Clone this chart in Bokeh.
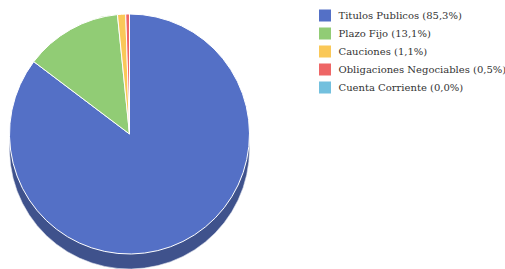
import numpy as np
from bokeh.plotting import figure
from bokeh.models import Range1d, ColumnDataSource
from bokeh.core.properties import value
from bokeh.embed import file_html
from bokeh.resources import INLINE

categories = ["Titulos Publicos", "Plazo Fijo", "Cauciones", "Obligaciones Negociables", "Cuenta Corriente"]
shares = [85.3, 13.1, 1.1, 0.5, 0.0]
colors = ["#5470c6", "#91cc75", "#fac858", "#ee6666", "#73c0de"]
side_colors = ["#3f528c", "#6b9656", "#b89340", "#ae4b4b", "#558da3"]

W, H = 505, 269
p = figure(width=W, height=H, output_backend="svg", toolbar_location=None,
           x_range=Range1d(0, W), y_range=Range1d(0, H), min_border=0)
p.axis.visible = False
p.grid.visible = False
p.outline_line_color = None
p.background_fill_color = "white"

cx, cy, r, depth = 129, H - 133.5, 120, 15
vals = np.array(shares)
frac = vals / vals.sum()
cum = np.concatenate([[0], np.cumsum(frac)])
start = np.pi / 2 - cum[1:] * 2 * np.pi
end = np.pi / 2 - cum[:-1] * 2 * np.pi
mask = frac > 0

src = ColumnDataSource(dict(start=start[mask], end=end[mask],
                            color=[c for c, m in zip(colors, mask) if m],
                            side=[c for c, m in zip(side_colors, mask) if m]))
p.wedge(x=cx, y=cy - depth, radius=r, radius_units="screen", start_angle="start", end_angle="end",
        fill_color="side", line_color="#dfe3ee", line_width=0.6, source=src)
p.wedge(x=cx, y=cy, radius=r, radius_units="screen", start_angle="start", end_angle="end",
        fill_color="color", line_color="white", line_width=1, source=src)

# legend
lx, ly0, step = 324.5, H - 15, 18
ys = [ly0 - i * step for i in range(len(categories))]
labels = [f"{c} ({s:.1f}%)".replace(".", ",") for c, s in zip(categories, shares)]
p.rect(x=[lx] * len(ys), y=ys, width=12, height=12, width_units="screen", height_units="screen",
       fill_color=colors, line_color=None)
p.text(x=[lx + 13.5] * len(ys), y=ys, text=labels, text_font=value("DejaVu Serif"),
       text_font_size="10px", text_baseline="middle", text_color="#333333")

open("out.html", "w").write(file_html(p, INLINE))
